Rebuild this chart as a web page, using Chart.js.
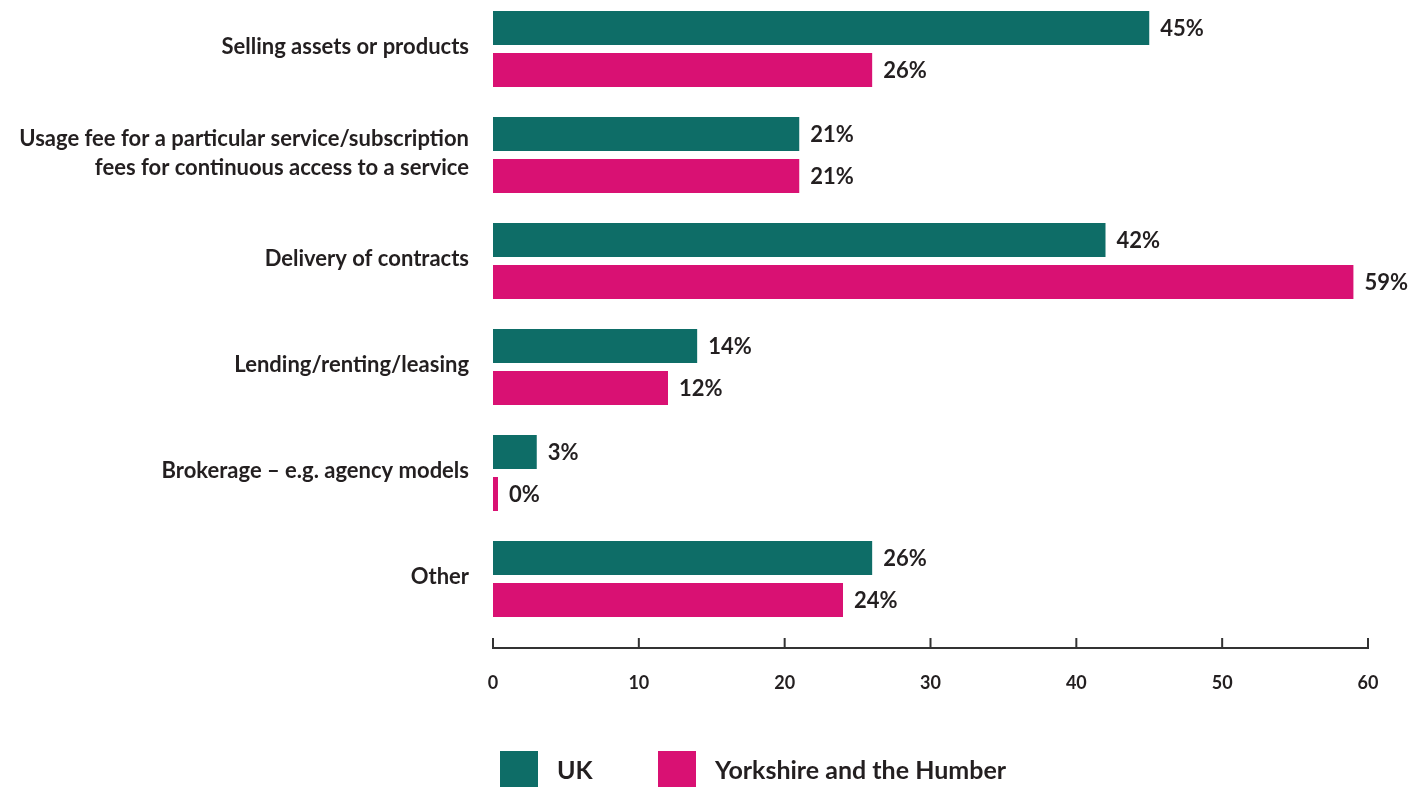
<!DOCTYPE html>
<html>
<head>
<meta charset="utf-8">
<script src="https://cdn.jsdelivr.net/npm/chart.js@4.4.1/dist/chart.umd.min.js"></script>
<style>
  html, body { margin: 0; padding: 0; background: #fff; overflow: hidden; }
  #wrap { position: absolute; left: 0; top: -4px; width: 1423px; height: 791px; }
</style>
</head>
<body>
<div id="wrap"><canvas id="revenue-chart"></canvas></div>
<script>
const categories = [
  'Selling assets or products',
  ['Usage fee for a particular service/subscription', 'fees for continuous access to a service'],
  'Delivery of contracts',
  'Lending/renting/leasing',
  'Brokerage – e.g. agency models',
  'Other',
]
const ukValues = [45, 21, 42, 14, 3, 26]
const yorkshireValues = [26, 21, 59, 12, 0, 24]
const xTicks = [0, 10, 20, 30, 40, 50, 60]

const TEAL = '#0e6d67'
const PINK = '#d91173'
const INK = '#231f20'
const FONT = 'Lato, "Open Sans", sans-serif'

// value labels at the end of each bar
const barLabels = {
  id: 'barLabels',
  afterDatasetsDraw(chart) {
    const { ctx } = chart
    ctx.save()
    ctx.font = `700 22px ${FONT}`
    ctx.fillStyle = INK
    ctx.textAlign = 'left'
    ctx.textBaseline = 'middle'
    chart.data.datasets.forEach((ds, i) => {
      chart.getDatasetMeta(i).data.forEach((bar, j) => {
        ctx.fillText(ds.data[j] + '%', bar.x + 11, bar.y + 1)
      })
    })
    ctx.restore()
  },
}

// x axis drawn by hand: line a little below the bars, tick marks
// pointing upwards, numbers underneath
const xAxisLine = {
  id: 'xAxisLine',
  afterDraw(chart) {
    const { ctx, chartArea } = chart
    const x = chart.scales.x
    const y = chartArea.bottom + 16
    ctx.save()
    ctx.strokeStyle = '#333'
    ctx.lineWidth = 2
    ctx.beginPath()
    ctx.moveTo(x.getPixelForValue(xTicks[0]) - 1, y)
    ctx.lineTo(x.getPixelForValue(xTicks[xTicks.length - 1]) + 1, y)
    xTicks.forEach(t => {
      const px = x.getPixelForValue(t)
      ctx.moveTo(px, y)
      ctx.lineTo(px, y - 10)
    })
    ctx.stroke()

    ctx.font = `700 18px ${FONT}`
    ctx.fillStyle = INK
    ctx.textAlign = 'center'
    ctx.textBaseline = 'middle'
    xTicks.forEach(t => {
      ctx.fillText(String(t), x.getPixelForValue(t), y + 35)
    })
    ctx.restore()
  },
}

// square legend swatches along the bottom
const squareLegend = {
  id: 'squareLegend',
  afterDraw(chart) {
    const { ctx } = chart
    const slots = [500, 658]
    const top = chart.height - 36
    ctx.save()
    ctx.font = `700 25px ${FONT}`
    ctx.textBaseline = 'middle'
    chart.data.datasets.forEach((ds, i) => {
      const left = slots[i]
      ctx.fillStyle = ds.backgroundColor
      ctx.fillRect(left, top, 38, 36)
      ctx.fillStyle = INK
      ctx.fillText(ds.label, left + 57, top + 20)
    })
    ctx.restore()
  },
}

new Chart(document.getElementById('revenue-chart'), {
  type: 'bar',
  data: {
    labels: categories,
    datasets: [
      {
        label: 'UK',
        data: ukValues,
        backgroundColor: TEAL,
        categoryPercentage: 0.792,
        barPercentage: 0.81,
      },
      {
        label: 'Yorkshire and the Humber',
        data: yorkshireValues,
        backgroundColor: PINK,
        categoryPercentage: 0.792,
        barPercentage: 0.81,
        minBarLength: 5,
      },
    ],
  },
  plugins: [barLabels, xAxisLine, squareLegend],
  options: {
    indexAxis: 'y',
    responsive: true,
    maintainAspectRatio: false,
    animation: false,
    layout: { padding: { top: 0, right: 55, bottom: 155, left: 0 } },
    plugins: {
      legend: { display: false },
      tooltip: { enabled: false },
    },
    scales: {
      x: {
        display: false,
        min: 0,
        max: 60,
      },
      y: {
        afterFit: scale => {
          scale.width = 493
          // category bands already hold the labels, no extra room needed
          scale.paddingTop = 0
          scale.paddingBottom = 0
        },
        grid: { display: false },
        border: { display: false },
        ticks: {
          padding: 16,
          labelOffset: -2,
          color: INK,
          font: { family: FONT, size: 22, weight: '700', lineHeight: 1.32 },
        },
      },
    },
  },
})
</script>
</body>
</html>
